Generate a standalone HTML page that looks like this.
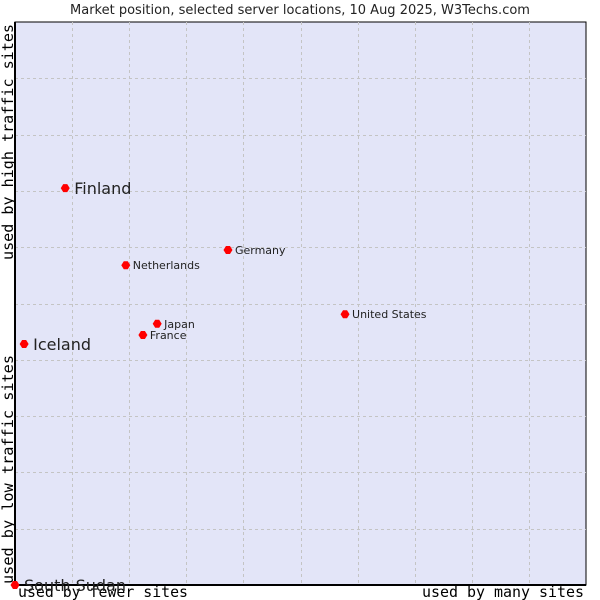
<!DOCTYPE html>
<html><head><meta charset="utf-8"><style>
body{margin:0;background:#fff;width:600px;height:600px;overflow:hidden}
svg{display:block}
</style></head><body>
<svg id="chart" width="600" height="600" xmlns="http://www.w3.org/2000/svg">
<text x="300" y="14" text-anchor="middle" font-family="DejaVu Sans, sans-serif" font-size="13" fill="#222">Market position, selected server locations, 10 Aug 2025, W3Techs.com</text>
<rect x="15" y="22" width="571" height="563" fill="#e3e5f8" stroke="#000" stroke-width="1"/>
<g id="grid"></g>
<line x1="15" y1="22" x2="15" y2="585" stroke="#000" stroke-width="2"/>
<line x1="15" y1="585" x2="586" y2="585" stroke="#000" stroke-width="2"/>
<text x="18" y="597" textLength="170" lengthAdjust="spacingAndGlyphs" font-family="DejaVu Sans Mono, monospace" font-size="15" fill="#000">used by fewer sites</text>
<text x="422" y="597" textLength="162" lengthAdjust="spacingAndGlyphs" font-family="DejaVu Sans Mono, monospace" font-size="15" fill="#000">used by many sites</text>
<text transform="translate(13,584) rotate(-90)" textLength="229" lengthAdjust="spacingAndGlyphs" font-family="DejaVu Sans Mono, monospace" font-size="15" fill="#000">used by low traffic sites</text>
<text transform="translate(13,260) rotate(-90)" textLength="236" lengthAdjust="spacingAndGlyphs" font-family="DejaVu Sans Mono, monospace" font-size="15" fill="#000">used by high traffic sites</text>
<g id="points"></g>
</svg>
<script>
const countries = ["South Sudan","Iceland","Finland","Netherlands","Germany","Japan","France","United States"];
const xValues = [0, 1.6, 8.8, 19.4, 37.3, 24.9, 22.4, 57.8];
const yValues = [0, 42.8, 70.5, 56.8, 59.5, 46.4, 44.4, 48.1];
const bigLabel = [true, true, true, false, false, false, false, false];
const gridDivisions = [1,2,3,4,5,6,7,8,9];

const X0=15, X1=586, Y0=585, Y1=22;
function sx(v){return X0+v/100*(X1-X0);}
function sy(v){return Y0-v/100*(Y0-Y1);}
const NS="http://www.w3.org/2000/svg";
const grid=document.getElementById('grid');
gridDivisions.forEach(d=>{
  const vl=document.createElementNS(NS,'line');
  const x=Math.round(sx(d*10))+0.5;
  vl.setAttribute('x1',x);vl.setAttribute('x2',x);vl.setAttribute('y1',Y1);vl.setAttribute('y2',Y0);
  vl.setAttribute('stroke','#c4c4c4');vl.setAttribute('stroke-dasharray','3,3');
  
  
  grid.appendChild(vl);
  const hl=document.createElementNS(NS,'line');
  const y=Math.round(sy(d*10))+0.5;
  hl.setAttribute('x1',X0);hl.setAttribute('x2',X1);hl.setAttribute('y1',y);hl.setAttribute('y2',y);
  hl.setAttribute('stroke','#c4c4c4');hl.setAttribute('stroke-dasharray','3,3');
  
  
  grid.appendChild(hl);
});
const pts=document.getElementById('points');
countries.forEach((c,i)=>{
  const x=sx(xValues[i]), y=sy(yValues[i]);
  const p=document.createElementNS(NS,'path');
  p.setAttribute('d',`M${x-4.5},${y} L${x-2},${y-4} L${x+2},${y-4} L${x+4.5},${y} L${x+2},${y+4} L${x-2},${y+4} Z`);
  p.setAttribute('fill','#f00');
  
  
  pts.appendChild(p);
  const t=document.createElementNS(NS,'text');
  t.setAttribute('x',x+(bigLabel[i]?9:7));
  t.setAttribute('y',y+(bigLabel[i]?6:4));
  t.setAttribute('font-family','DejaVu Sans, sans-serif');
  t.setAttribute('font-size',bigLabel[i]?16:11);
  t.setAttribute('fill','#222');
  t.textContent=c;
  
  
  pts.appendChild(t);
});
</script>
</body></html>
